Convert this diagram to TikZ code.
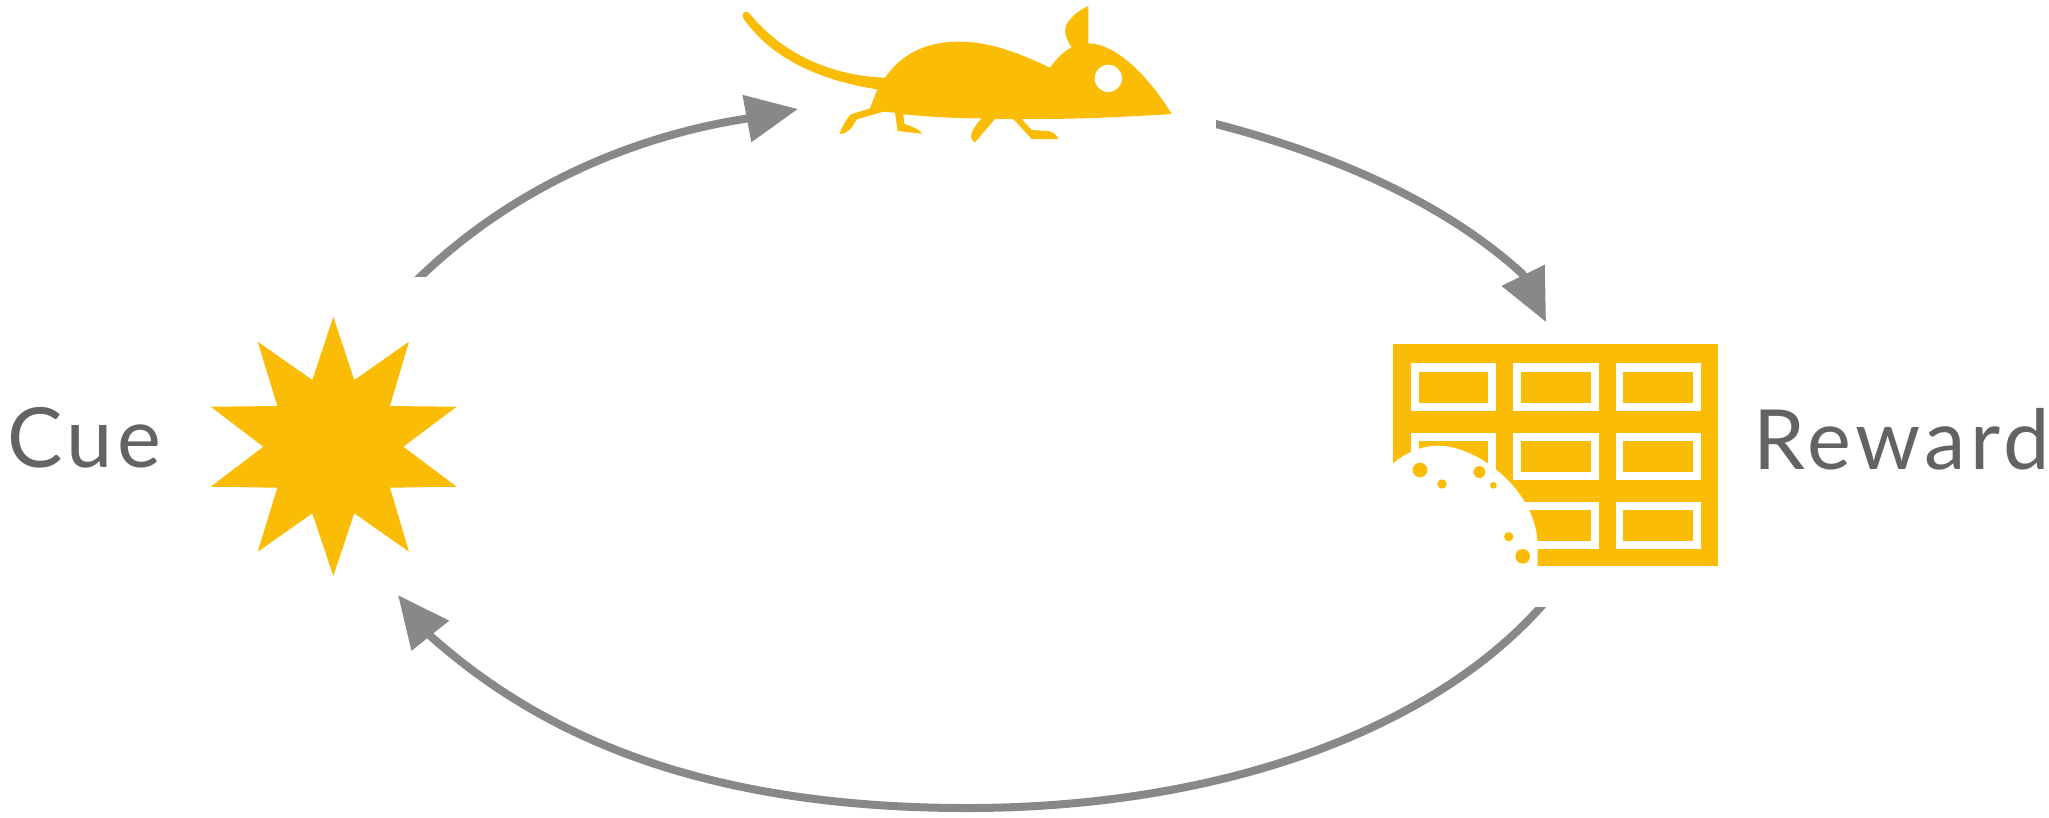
\documentclass[tikz,border=0pt]{standalone}
\usepackage{fontspec}
\setmainfont[LetterSpace=5.5]{Lato}
\usetikzlibrary{arrows.meta}
\definecolor{gold}{HTML}{FBBC05}
\definecolor{flow}{HTML}{888888}
\definecolor{ink}{HTML}{636363}
\tikzset{
  flowline/.style={draw=flow,line width=0.08cm,line join=round,
    -{Triangle[length=0.52cm,width=0.46cm,fill=flow]}},
  caption/.style={anchor=base west,inner sep=0pt,text=ink,font=\fontsize{23.6pt}{28pt}\selectfont},
}
\begin{document}
\begin{tikzpicture}[x=0.01cm,y=-0.01cm]
\useasboundingbox (0,0) rectangle (2049,817);
% star
\fill[gold] (333.3,316.7)--(354.3,380)--(409,341.7)--(390,406)--(456.7,406.7)--(403.3,446.7)--(456.7,486.7)--(390,487.7)--(409,551.7)--(354.3,513.3)--(333.3,576)--(312.3,513.3)--(257.7,551.7)--(277.3,487.7)--(210.7,486.7)--(263.3,446.7)--(210.7,406.7)--(277.3,406)--(257.7,341.7)--(312.3,380)--cycle;
% mouse
\begin{scope}[shift={(720,0)},scale=1/3]
\fill[gold] (68,45) .. controls (68,35) and (80,30) .. (90,42)
  .. controls (190,165) and (340,228) .. (495,233)
  .. controls (560,140) and (650,125) .. (720,125)
  .. controls (810,125) and (900,160) .. (990,203)
  .. controls (1010,175) and (1030,155) .. (1055,142)
  .. controls (1030,105) and (1030,80) .. (1050,58)
  .. controls (1065,40) and (1085,27) .. (1105,18)
  -- (1105,130)
  .. controls (1190,130) and (1290,235) .. (1355,342)
  .. controls (1200,352) and (1050,358) .. (905,357)
  -- (935,390)
  -- (985,393)
  .. controls (1000,395) and (1010,405) .. (1015,417)
  -- (935,417)
  -- (880,357)
  -- (825,357)
  -- (765,427)
  .. controls (745,415) and (750,395) .. (785,355)
  .. controls (700,355) and (625,350) .. (550,343)
  -- (553,372)
  .. controls (580,380) and (600,390) .. (607,401)
  -- (533,393)
  -- (525,338)
  -- (490,335)
  -- (410,358)
  .. controls (395,385) and (385,400) .. (358,402)
  .. controls (370,375) and (380,355) .. (393,343)
  -- (450,325)
  -- (472,268)
  .. controls (290,240) and (150,170) .. (70,55)
  -- cycle;
\fill[white] (1165,235) circle (41);
\end{scope}
% reward box
\begin{scope}[shift={(1370,330)},scale=1/3]
\fill[gold] (70,43) rectangle (1043,707);
\foreach \xa/\xb/\xc/\xd in {122/379/146/354,428/686/453/662,737/994/760/970}
  \foreach \ya/\yb/\yc/\yd in {100/242/126/218,308/450/333/426,516/658/541/633}{
    \fill[white] (\xa,\ya) rectangle (\xb,\yb);
    \fill[gold] (\xc,\yc) rectangle (\xd,\yd);
  }
\fill[white] (60,408) -- (70,400) .. controls (110,365) and (160,347) .. (205,347)
  .. controls (320,347) and (503,480) .. (503,650) -- (503,715) -- (60,715) -- cycle;
\foreach \cx/\cy/\cr in {150/420/22,216/462/14,328/426/18,370/466/10,416/620/14,458/679/22}
  \fill[gold] (\cx,\cy) circle (\cr);
\end{scope}
% labels
\node[caption] (cue) at (7,467) {Cue};
\node[caption] (reward) at (1753,469) {Reward};
% connector ends
\coordinate (a1s) at (416,281);
\coordinate (a1b) at (747,118.5);
\coordinate (a1t) at (798,109);
\coordinate (a2s) at (1206,121.5);
\coordinate (a2b) at (1522.5,274);
\coordinate (a2t) at (1546,322);
\coordinate (a3s) at (1546,601);
\coordinate (a3m) at (967,808);
\coordinate (a3b) at (431,636.5);
\coordinate (a3t) at (398,595);
\begin{scope}
\clip (0,0) rectangle (2049,276);
\path[flowline] (a1s) .. controls (516,183) and (640,135) .. (a1b) -- (a1t);
\end{scope}
\begin{scope}
\clip (1216,0) rectangle (2049,817);
\path[flowline] (a2s) .. controls (1312,148) and (1435,194) .. (a2b) -- (a2t);
\end{scope}
\begin{scope}
\clip (0,500) -- (1000,500) -- (1000,607) -- (2049,607) -- (2049,817) -- (0,817) -- cycle;
\path[flowline] (a3s) .. controls (1435,730) and (1220,808) .. (a3m)
  .. controls (707,808) and (545,738) .. (a3b) -- (a3t);
\end{scope}
\end{tikzpicture}
\end{document}
